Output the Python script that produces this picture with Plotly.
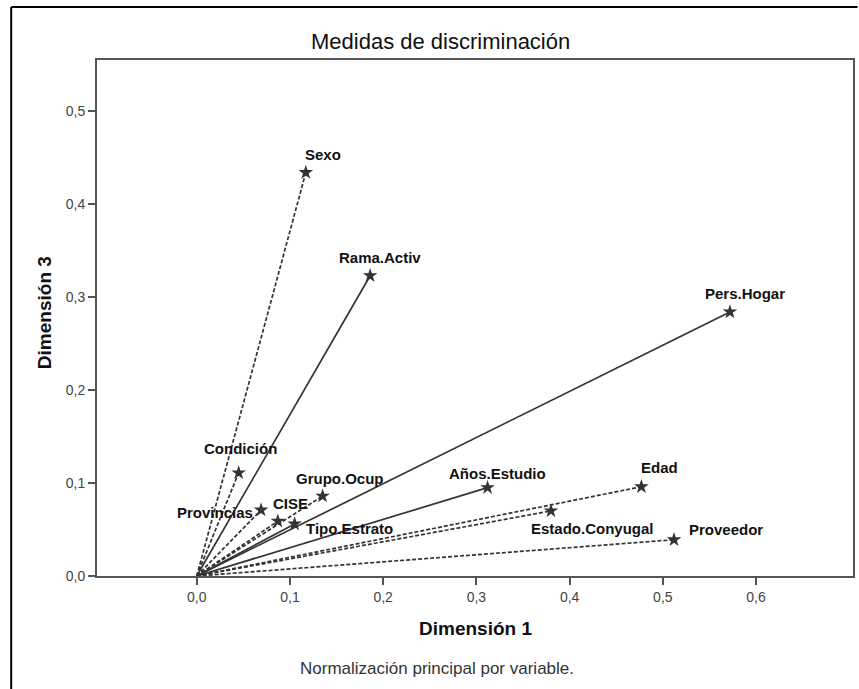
import plotly.graph_objects as go

# ---- data ----
variables = ["Sexo", "Rama.Activ", "Pers.Hogar", "Condición", "Provincias", "CISE",
             "Tipo.Estrato", "Grupo.Ocup", "Años.Estudio", "Edad", "Estado.Conyugal", "Proveedor"]
dim1 = [0.117, 0.186, 0.572, 0.045, 0.069, 0.087, 0.105, 0.135, 0.312, 0.477, 0.380, 0.512]
dim3 = [0.434, 0.323, 0.284, 0.111, 0.071, 0.059, 0.056, 0.086, 0.095, 0.096, 0.070, 0.039]
line_style = ["dash", "solid", "solid", "dash", "dash", "dash",
              "solid", "dash", "solid", "dash", "dash", "dash"]
x_ticks = [0.0, 0.1, 0.2, 0.3, 0.4, 0.5, 0.6]
y_ticks = [0.0, 0.1, 0.2, 0.3, 0.4, 0.5]

# label placement (pixel offsets from the star, anchor)
label_place = {
    "Sexo": (17, 18, "center"),
    "Rama.Activ": (10, 18, "center"),
    "Pers.Hogar": (15, 18, "center"),
    "Condición": (2, 24, "center"),
    "Provincias": (-6, -3, "right"),
    "CISE": (-7, 18, "left"),
    "Tipo.Estrato": (9, -5, "left"),
    "Grupo.Ocup": (17, 18, "center"),
    "Años.Estudio": (10, 14, "center"),
    "Edad": (18, 19, "center"),
    "Estado.Conyugal": (42, -18, "center"),
    "Proveedor": (13, 10, "left"),
}

FONT = "Liberation Sans, Arial, sans-serif"
LINE_COLOR = "#333333"

fig = go.Figure()

for name, x, y, ls in zip(variables, dim1, dim3, line_style):
    dash = "solid" if ls == "solid" else "4px,2px"
    fig.add_trace(go.Scatter(
        x=[0, x], y=[0, y], mode="lines",
        line=dict(color=LINE_COLOR, width=1.7, dash=dash),
        showlegend=False, hoverinfo="skip"))

fig.add_trace(go.Scatter(
    x=dim1, y=dim3, mode="markers",
    marker=dict(symbol="star", size=11, color="#333333", line=dict(width=0)),
    text=variables, showlegend=False))

annotations = []
for name, x, y in zip(variables, dim1, dim3):
    dx, dy, anchor = label_place[name]
    annotations.append(dict(
        x=x, y=y, xref="x", yref="y", text=f"<b>{name}</b>", showarrow=False,
        xshift=dx, yshift=dy, xanchor=anchor, yanchor="middle",
        font=dict(family=FONT, size=15, color="#111111")))

annotations += [
    dict(x=0.4538, y=1.0368, xref="paper", yref="paper", text="Medidas de discriminación",
         showarrow=False, xanchor="center", yanchor="middle",
         font=dict(family=FONT, size=22, color="#111111")),
    dict(x=0.501, y=-0.1027, xref="paper", yref="paper", text="<b>Dimensión 1</b>",
         showarrow=False, xanchor="center", yanchor="middle",
         font=dict(family=FONT, size=19, color="#111111")),
    dict(x=-0.0686, y=0.5097, xref="paper", yref="paper", text="<b>Dimensión 3</b>",
         showarrow=False, xanchor="center", yanchor="middle", textangle=-90,
         font=dict(family=FONT, size=19, color="#111111")),
    dict(x=0.45, y=-0.180, xref="paper", yref="paper",
         text="Normalización principal por variable.",
         showarrow=False, xanchor="center", yanchor="middle",
         font=dict(family=FONT, size=17, color="#333333")),
]

shapes = [
    # outer frame lines (top and left)
    dict(type="line", xref="paper", yref="paper", x0=-0.1135, x1=1.006, y0=1.1027, y1=1.1027,
         line=dict(color="black", width=2)),
    dict(type="line", xref="paper", yref="paper", x0=-0.1135, x1=-0.1135, y0=1.1027, y1=-0.22,
         line=dict(color="black", width=2)),
]

fig.update_layout(
    width=859, height=689,
    margin=dict(l=97, r=4, t=60, b=113),
    paper_bgcolor="white", plot_bgcolor="white",
    separators=",.",
    annotations=annotations, shapes=shapes,
    font=dict(family=FONT),
)
fig.update_xaxes(range=[-0.107, 0.704], tickvals=x_ticks, tickformat=".1f",
                 showgrid=False, zeroline=False, showline=True, linecolor="#555555",
                 linewidth=1.8, mirror=True, ticks="outside", ticklen=7, tickcolor="#555555",
                 tickwidth=1.5,
                 tickfont=dict(family=FONT, size=14, color="#444444"))
fig.update_yaxes(range=[0, 0.555], tickvals=y_ticks, tickformat=".1f",
                 showgrid=False, zeroline=False, showline=True, linecolor="#555555",
                 linewidth=1.8, mirror=True, ticks="outside", ticklen=7, tickcolor="#555555",
                 tickwidth=1.5,
                 tickfont=dict(family=FONT, size=14, color="#444444"))

fig.write_html("out.html")
